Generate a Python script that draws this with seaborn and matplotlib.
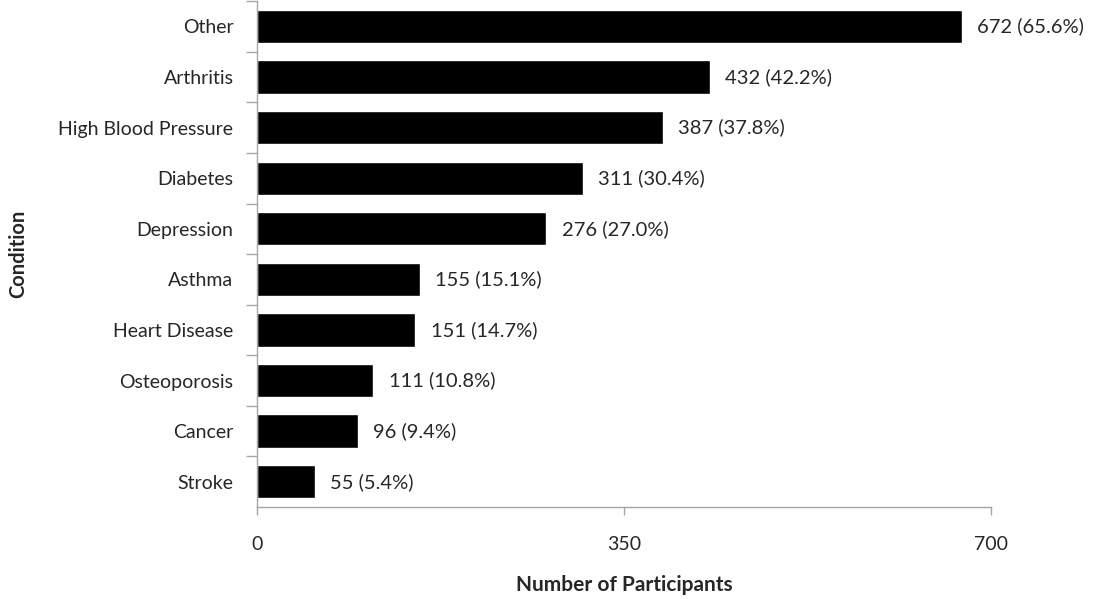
import pandas as pd
import seaborn as sns
import matplotlib.pyplot as plt
import numpy as np

# data
conditions = ['Other', 'Arthritis', 'High Blood Pressure', 'Diabetes', 'Depression',
              'Asthma', 'Heart Disease', 'Osteoporosis', 'Cancer', 'Stroke']
counts = [672, 432, 387, 311, 276, 155, 151, 111, 96, 55]
percents = [65.6, 42.2, 37.8, 30.4, 27.0, 15.1, 14.7, 10.8, 9.4, 5.4]
x_ticks = [0, 350, 700]

df = pd.DataFrame({'Condition': conditions, 'Participants': counts})

sns.set_style('white')
plt.rcParams['font.family'] = ['Lato', 'DejaVu Sans']

fig = plt.figure(figsize=(10.99, 5.99), dpi=100)
ax = fig.add_axes([0.2339, 0.1536, 0.6678, 0.8444])

sns.barplot(data=df, x='Participants', y='Condition', orient='h',
            color='black', width=0.66, saturation=1, ax=ax)

labels = [f'{c} ({p:.1f}%)' for c, p in zip(counts, percents)]
ax.bar_label(ax.containers[0], labels=labels, padding=11, fontsize=14.5, color='#262626')

ax.set_xlim(0, 700)
ax.set_ylim(9.5, -0.5)
ax.set_xticks(x_ticks)
ax.set_xticklabels([str(t) for t in x_ticks], fontsize=14, color='#262626')
ax.tick_params(axis='x', length=6, width=1, color='#a6a6a6', pad=15, direction='out', bottom=True)
ax.tick_params(axis='y', which='major', length=0, pad=17, labelsize=14, labelcolor='#262626')
ax.set_yticks(np.arange(len(conditions)) - 0.5, minor=True)
ax.tick_params(axis='y', which='minor', length=8, width=1, color='#a6a6a6', left=True)

for s in ['top', 'right']:
    ax.spines[s].set_visible(False)
for s in ['left', 'bottom']:
    ax.spines[s].set_color('#a6a6a6')
    ax.spines[s].set_linewidth(1)

ax.set_xlabel('Number of Participants', fontsize=15, fontweight='bold', labelpad=16)
ax.set_ylabel('Condition', fontsize=14.5, fontweight='bold')
ax.yaxis.set_label_coords(-0.312, 0.5)

fig.savefig('out.png', dpi=100)
